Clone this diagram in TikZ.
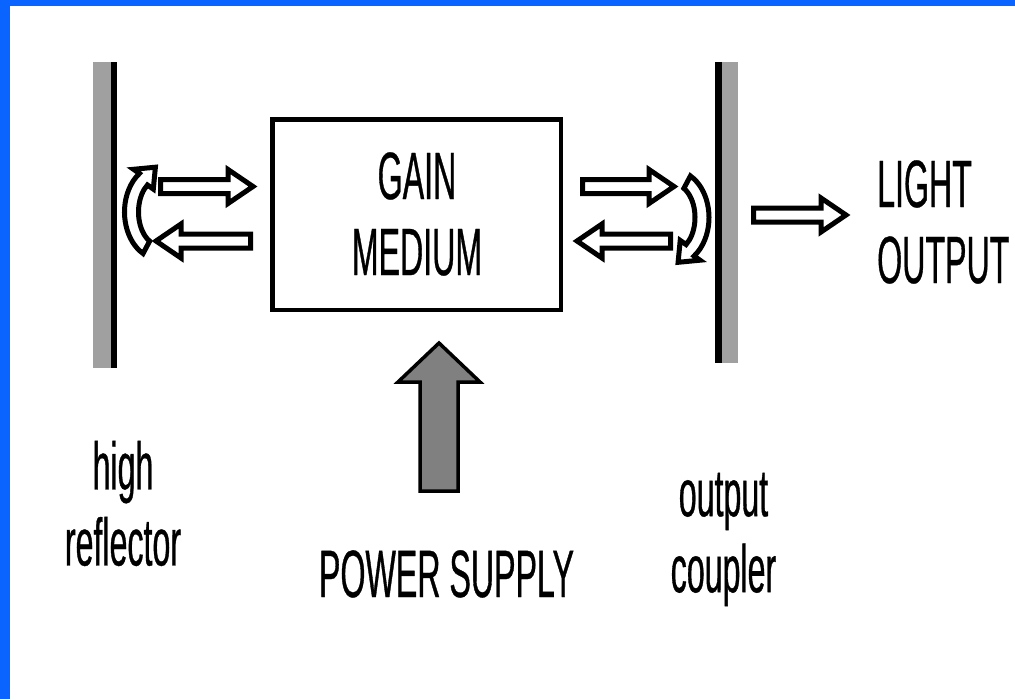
\documentclass[tikz,border=0pt]{standalone}
\usepackage{fontspec}
\newfontfamily\labfont[FakeStretch=0.48,FakeBold=0.5]{Liberation Sans}
\usetikzlibrary{calc}
\definecolor{frameblue}{RGB}{10,100,255}
\definecolor{mirrorgrey}{RGB}{160,160,160}
\definecolor{pumpgrey}{RGB}{128,128,128}
\tikzset{
  hollow/.style={draw=black, line width=5pt, fill=white, line join=miter},
  lab/.style={font=\labfont\fontsize{67}{76}\selectfont, inner sep=0pt, text=black},
  curvarr/.pic={
    \draw[hollow, line width=5pt] (118:21 and 33) -- (118:35 and 47)
      arc[start angle=118, end angle=235, x radius=35, y radius=47]
      -- (-26,-42.7) -- (-4.1,-44.8) -- (-6.2,-22.9) -- (235:21 and 33)
      arc[start angle=235, end angle=118, x radius=21, y radius=33] -- cycle;
  }
}
\newcommand\arrR[3]{% tail x, tip x, y
  \draw[hollow] (#1,{#3-7}) -- ({#2-25},{#3-7}) -- ({#2-25},{#3-17}) -- (#2,#3)
    -- ({#2-25},{#3+17}) -- ({#2-25},{#3+7}) -- (#1,{#3+7}) -- cycle;}
\newcommand\arrL[3]{% tail x, tip x, y
  \draw[hollow] (#1,{#3-7}) -- ({#2+25},{#3-7}) -- ({#2+25},{#3-17}) -- (#2,#3)
    -- ({#2+25},{#3+17}) -- ({#2+25},{#3+7}) -- (#1,{#3+7}) -- cycle;}
\begin{document}
\begin{tikzpicture}[x=1pt,y=-1pt]
\useasboundingbox (0,0) rectangle (1015,699);
\fill[white] (0,0) rectangle (1015,699);
% blue frame
\fill[frameblue] (0,0) rectangle (10,699);
\fill[frameblue] (0,0) rectangle (1015,6);
% left mirror (high reflector)
\fill[mirrorgrey] (93,62) rectangle (111,368);
\fill[black] (111,62) rectangle (117,368);
% right mirror (output coupler)
\fill[black] (715,62) rectangle (722,363);
\fill[mirrorgrey] (722,62) rectangle (738,363);
% gain medium box
\node[draw=black, line width=4.5pt, minimum width=288.5pt, minimum height=190.5pt, inner sep=0pt] (box) at (416.5,214.5) {};
\node[lab, align=center] (gain) at (417,214) {GAIN\\MEDIUM};
% straight hollow arrows
\arrR{160.5}{253}{186.5}
\arrL{250.5}{156}{241}
\arrR{582.5}{674}{186.5}
\arrL{670.5}{577}{241}
\arrR{753.5}{846}{215}
% curved arrows at the mirrors
\pic at (159.5,212) {curvarr};
\pic[rotate=180] at (674,217.5) {curvarr};
% power supply arrow
\draw[draw=black, line width=3.5pt, fill=pumpgrey, line join=miter]
  (439,343) -- (480,382) -- (458,382) -- (458,491) -- (420,491) -- (420,382) -- (398,382) -- cycle;
% labels
\node[lab, align=left, anchor=west] (light) at (877,222) {LIGHT\\OUTPUT};
\node[lab, align=center] (hr) at (123,503.5) {high\\reflector};
\node[lab, align=center] (oc) at (723.5,539.5) {output\\coupler};
\node[lab, anchor=base] (ps) at (446.5,597) {POWER SUPPLY};
\end{tikzpicture}
\end{document}
